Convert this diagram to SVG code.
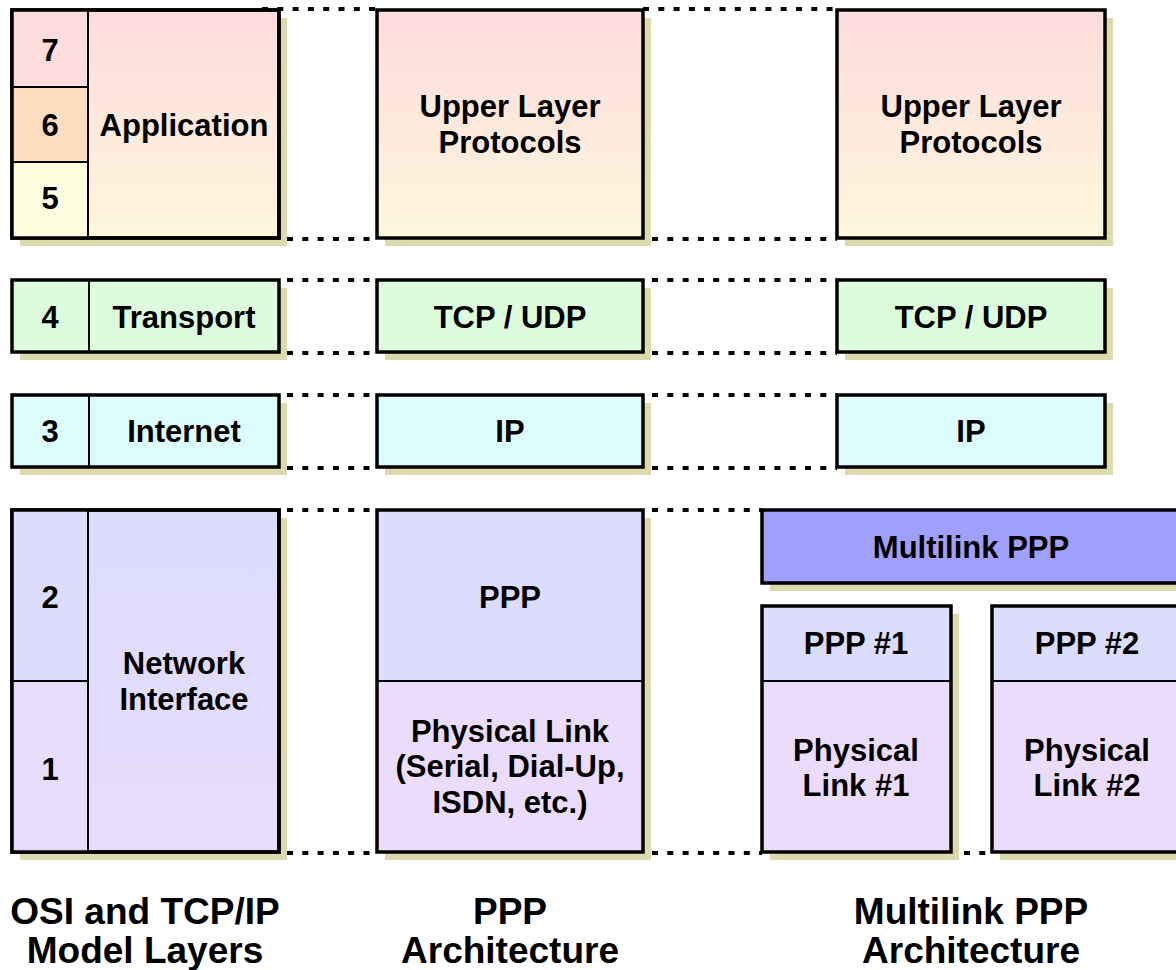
<svg xmlns="http://www.w3.org/2000/svg" width="1176" height="970" viewBox="0 0 1176 970">
<defs>
<linearGradient id="gUpper" x1="0" y1="0" x2="0" y2="1">
<stop offset="0" stop-color="#fddcdc"/>
<stop offset="1" stop-color="#fdf6dc"/>
</linearGradient>
<linearGradient id="gNet" x1="0" y1="0" x2="0" y2="1">
<stop offset="0" stop-color="#dcdcfc"/>
<stop offset="1" stop-color="#e8dcfc"/>
</linearGradient>
</defs>
<style>
.sh{fill:#dcd9ad;stroke:none}
.box{stroke:#000;stroke-width:3.5}
.div{stroke:#000;stroke-width:2;fill:none}
.dot{stroke:#000;stroke-width:4;stroke-dasharray:6 9.3;fill:none}
text{font-family:"Liberation Sans",Arial,sans-serif;font-weight:bold;font-size:31px;fill:#000;text-anchor:middle}
.title{font-size:37px}
</style>
<rect width="1176" height="970" fill="#fff"/>

<g id="connectors">
<path class="dot" d="M262 9H377M643 9H837"/>
<path class="dot" d="M287 239H377M652 239H837"/>
<path class="dot" d="M287 280H377M652 280H837"/>
<path class="dot" d="M287 353H377M652 353H837"/>
<path class="dot" d="M287 395H377M652 395H837"/>
<path class="dot" d="M287 468H377M652 468H837"/>
<path class="dot" d="M287 510H377M652 510H762"/>
<path class="dot" d="M287 853H377M652 853H762M964 853H992"/>
</g>

<!-- Column 1 -->
<g id="osi-upper">
<rect class="sh" x="20" y="18" width="267" height="228"/>
<rect class="box" x="12" y="10" width="267" height="228" fill="url(#gUpper)"/>
<rect x="12" y="10" width="76" height="77" fill="#fddcdc"/>
<rect x="12" y="87" width="76" height="75" fill="#fddcc0"/>
<rect x="12" y="162" width="76" height="76" fill="#fefde0"/>
<path class="div" d="M88 10V238M12 87H88M12 162H88"/>
<rect x="12" y="10" width="267" height="228" fill="none" stroke="#000" stroke-width="3.5"/>
<text x="50" y="61">7</text>
<text x="50" y="136">6</text>
<text x="50" y="209">5</text>
<text x="184" y="136">Application</text>
</g>

<g id="osi-transport">
<rect class="sh" x="20" y="288" width="267" height="72"/>
<rect class="box" x="12" y="280" width="267" height="72" fill="#dcfcdc"/>
<path class="div" d="M89 280V352"/>
<text x="50" y="328">4</text>
<text x="184" y="328">Transport</text>
</g>

<g id="osi-internet">
<rect class="sh" x="20" y="403" width="267" height="72"/>
<rect class="box" x="12" y="395" width="267" height="72" fill="#dcfcfc"/>
<path class="div" d="M89 395V467"/>
<text x="50" y="442">3</text>
<text x="184" y="442">Internet</text>
</g>

<g id="osi-network">
<rect class="sh" x="20" y="518" width="267" height="342"/>
<rect class="box" x="12" y="510" width="267" height="342" fill="url(#gNet)"/>
<rect x="12" y="510" width="76" height="171" fill="#dcdcfc"/>
<rect x="12" y="681" width="76" height="171" fill="#e8dcfc"/>
<path class="div" d="M88 510V852M12 681H88"/>
<rect x="12" y="510" width="267" height="342" fill="none" stroke="#000" stroke-width="3.5"/>
<text x="50" y="608">2</text>
<text x="50" y="780">1</text>
<text x="184" y="674">Network</text>
<text x="184" y="710">Interface</text>
</g>

<!-- Column 2 -->
<g id="ppp-upper">
<rect class="sh" x="385" y="18" width="266" height="228"/>
<rect class="box" x="377" y="10" width="266" height="228" fill="url(#gUpper)"/>
<text x="510" y="117">Upper Layer</text>
<text x="510" y="153">Protocols</text>
</g>

<g id="ppp-tcp">
<rect class="sh" x="385" y="288" width="266" height="72"/>
<rect class="box" x="377" y="280" width="266" height="72" fill="#dcfcdc"/>
<text x="510" y="328">TCP / UDP</text>
</g>

<g id="ppp-ip">
<rect class="sh" x="385" y="403" width="266" height="72"/>
<rect class="box" x="377" y="395" width="266" height="72" fill="#dcfcfc"/>
<text x="510" y="442">IP</text>
</g>

<g id="ppp-link">
<rect class="sh" x="385" y="518" width="266" height="342"/>
<rect x="377" y="510" width="266" height="171" fill="#dcdcfc"/>
<rect x="377" y="681" width="266" height="171" fill="#ecdcfc"/>
<path class="div" d="M377 681H643"/>
<rect x="377" y="510" width="266" height="342" fill="none" stroke="#000" stroke-width="3.5"/>
<text x="510" y="608">PPP</text>
<text x="510" y="742">Physical Link</text>
<text x="510" y="777">(Serial, Dial-Up,</text>
<text x="510" y="813">ISDN, etc.)</text>
</g>

<!-- Column 3 -->
<g id="mlppp-upper">
<rect class="sh" x="845" y="18" width="268" height="228"/>
<rect class="box" x="837" y="10" width="268" height="228" fill="url(#gUpper)"/>
<text x="971" y="117">Upper Layer</text>
<text x="971" y="153">Protocols</text>
</g>

<g id="mlppp-tcp">
<rect class="sh" x="845" y="288" width="268" height="72"/>
<rect class="box" x="837" y="280" width="268" height="72" fill="#dcfcdc"/>
<text x="971" y="328">TCP / UDP</text>
</g>

<g id="mlppp-ip">
<rect class="sh" x="845" y="403" width="268" height="72"/>
<rect class="box" x="837" y="395" width="268" height="72" fill="#dcfcfc"/>
<text x="971" y="442">IP</text>
</g>

<g id="mlppp-multilink">
<rect class="sh" x="770" y="518" width="420" height="73"/>
<rect class="box" x="762" y="510" width="430" height="73" fill="#a0a0fc"/>
<text x="971" y="558">Multilink PPP</text>
</g>

<g id="mlppp-link1">
<rect class="sh" x="770" y="614" width="189" height="246"/>
<rect x="762" y="606" width="189" height="75" fill="#dcdcfc"/>
<rect x="762" y="681" width="189" height="171" fill="#ecdcfc"/>
<path class="div" d="M762 681H951"/>
<rect x="762" y="606" width="189" height="246" fill="none" stroke="#000" stroke-width="3.5"/>
<text x="856" y="654">PPP #1</text>
<text x="856" y="761">Physical</text>
<text x="856" y="796">Link #1</text>
</g>

<g id="mlppp-link2">
<rect class="sh" x="1000" y="614" width="200" height="246"/>
<rect x="992" y="606" width="200" height="75" fill="#dcdcfc"/>
<rect x="992" y="681" width="200" height="171" fill="#ecdcfc"/>
<path class="div" d="M992 681H1192"/>
<rect x="992" y="606" width="200" height="246" fill="none" stroke="#000" stroke-width="3.5"/>
<text x="1087" y="654">PPP #2</text>
<text x="1087" y="761">Physical</text>
<text x="1087" y="796">Link #2</text>
</g>

<g id="titles">
<text class="title" x="145" y="924">OSI and TCP/IP</text>
<text class="title" x="145" y="963">Model Layers</text>
<text class="title" x="510" y="924">PPP</text>
<text class="title" x="510" y="963">Architecture</text>
<text class="title" x="971" y="924">Multilink PPP</text>
<text class="title" x="971" y="963">Architecture</text>
</g>
</svg>
